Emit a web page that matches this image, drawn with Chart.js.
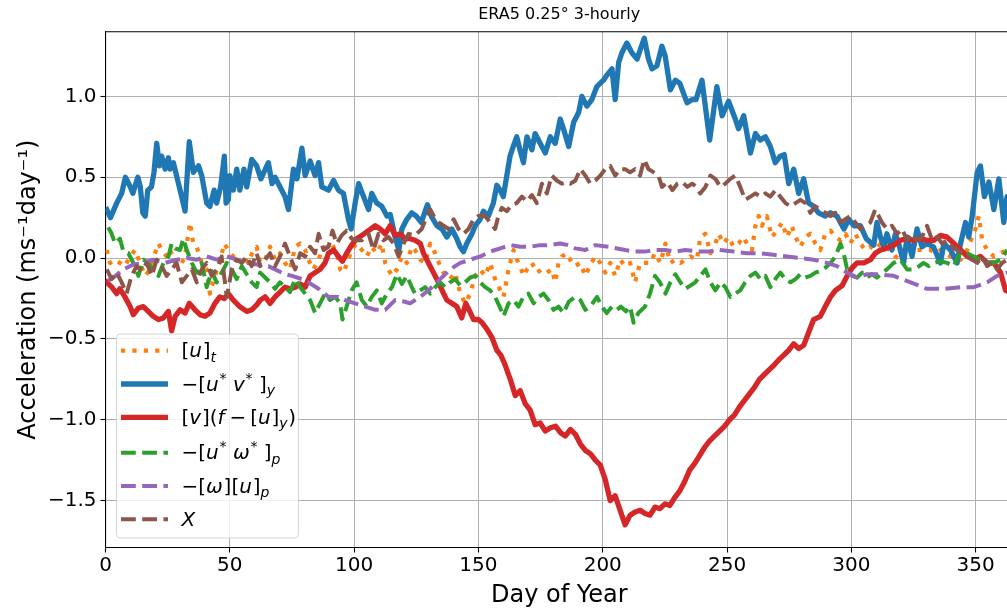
<!DOCTYPE html>
<html>
<head>
<meta charset="utf-8">
<script src="https://cdn.jsdelivr.net/npm/chart.js@4.4.1/dist/chart.umd.min.js"></script>
<style>
  html, body { margin: 0; padding: 0; overflow: hidden; background: #fff; }
  #wrap { width: 1013px; height: 612px; }
</style>
</head>
<body>
<div id="wrap"><canvas id="chart" width="1013" height="612"></canvas></div>
<script>
// ---- data: [day of year, acceleration in m/s/day] ----
const xTickValues = [0, 50, 100, 150, 200, 250, 300, 350];
const yTickValues = [-1.5, -1.0, -0.5, 0.0, 0.5, 1.0];

const utData = [ // [u]_t
  [0.5,0.05],[1.8,-0.03],[3.8,-0.01],[5.8,-0.03],[7.8,-0.05],[9.9,0.01],[11.9,0.05],[13.9,-0.03],[15.9,-0.11],[17.9,-0.07],
  [19.9,0.03],[21.3,0.09],[22.6,0.05],[24.6,0.01],[26,0.05],[28,-0.03],[30,-0.05],[32,0.01],[33.3,0.15],[34,0.22],
  [35.3,0.09],[36.7,0.07],[38.7,-0.03],[40.7,-0.07],[42,-0.22],[44,-0.11],[46,-0.03],[47.7,0.09],[49.4,0.05],[51.4,0.01],
  [53.4,-0.03],[55.4,0.01],[57.4,-0.03],[59.5,0.05],[60.8,0.07],[62.2,-0.03],[64.2,-0.01],[66.2,0.07],[68.2,-0.01],[70.2,0.03],
  [72.2,-0.03],[74.2,-0.07],[76.3,0.07],[78.3,0.09],[80.3,0.05],[81.6,-0.01],[83.6,-0.07],[85.7,-0.01],[87,0.05],[89,0.07],
  [91,0.09],[93,0.03],[94.4,-0.07],[95.7,-0.09],[97.7,-0.01],[99,0.05],[101,0.09],[103.1,0.05],[105.1,0.01],[107,0.07],
  [109.1,0.03],[111.1,0.09],[112.5,-0.03],[113.8,-0.07],[115.2,-0.11],[117.2,-0.07],[119.2,0.01],[121.2,-0.03],[123.2,0.07],[124.5,0.05],
  [126.6,-0.01],[128.6,-0.03],[130.6,0.09],[132.6,0.03],[134.6,-0.05],[136.6,-0.11],[138.6,-0.13],[140.6,-0.09],[142.7,-0.22],[144.7,-0.28],
  [146.7,-0.22],[148.7,-0.11],[150.7,-0.07],[152.7,-0.11],[154.7,-0.03],[156.7,-0.13],[158.8,-0.20],[160.1,-0.24],[162.1,-0.07],[164.1,0.05],
  [165.5,-0.01],[166.8,-0.05],[168.1,-0.11],[169.5,-0.07],[171.5,-0.03],[173.5,-0.09],[175.5,-0.07],[177.5,-0.09],[179.5,-0.07],[180.9,-0.15],
  [182.2,-0.03],[183.6,0.01],[185.5,0.03],[186.9,-0.01],[188.9,-0.05],[190.9,-0.03],[193,-0.11],[195,-0.04],[197,0.01],[199,-0.03],
  [201,-0.09],[203,-0.03],[205,-0.11],[207,-0.01],[209,-0.05],[211,-0.03],[213,-0.15],[215,-0.03],[217,-0.03],[219,-0.03],
  [221,0.03],[223.2,-0.03],[225.2,0.09],[227.2,-0.03],[229.2,-0.01],[231.2,-0.03],[233.2,-0.01],[235.2,0.01],[237.9,-0.01],[239.2,0.13],
  [241.3,0.15],[243.3,0.03],[245.3,0.09],[246.6,0.15],[248.6,0.09],[250.6,0.13],[252.6,0.07],[254.6,0.09],[256.6,0.13],[258.6,0.07],
  [260,0.05],[261.4,0.20],[262.7,0.26],[264,0.20],[266,0.26],[268,0.13],[270.1,0.17],[272.1,0.22],[274.1,0.13],[276,0.20],
  [277.5,0.13],[279.5,0.07],[281.5,0.13],[283.5,0.15],[285.5,0.09],[287.5,0.05],[289.5,0.15],[291.6,0.17],[293.6,0.13],[295.6,0.11],
  [297.6,0.15],[299.6,0.09],[301.6,0.15],[303.6,0.09],[305.6,0.05],[307.6,0.07],[309.6,0.05],[311.7,0.09],[313.6,0.07],[315.7,0.05],
  [317.7,0.01],[319.7,-0.01],[321.7,0.07],[323.8,0.05],[325.8,0.05],[327.8,0.05],[329.8,0.05],[331.8,0.05],[333.8,0.03],[335.8,0.05],
  [337.8,0.03],[339.9,0.01],[341.9,0.01],[343.9,-0.01],[346.6,0.05],[348.6,0.13],[349.9,0.18],[351.2,0.26],[352,0.18],[352.6,0.11],
  [354.6,0.05],[357.3,0.01],[360,0.03],[362.7,0.05]
];

const uvData = [ // -[u*v*]_y
  [0.5,0.30],[2,0.25],[4.5,0.34],[6.5,0.40],[8,0.50],[10,0.44],[11,0.40],[13,0.50],[14,0.44],[15,0.28],
  [16,0.26],[17,0.42],[18.5,0.44],[19.5,0.53],[20.6,0.71],[21.7,0.57],[22.6,0.63],[24,0.55],[25.3,0.62],[26,0.55],
  [27.3,0.59],[30,0.42],[32,0.29],[33,0.55],[33.7,0.72],[35.3,0.53],[37.4,0.57],[38.7,0.51],[40.7,0.34],[42,0.32],
  [43.7,0.42],[44.7,0.34],[46.3,0.44],[47.8,0.63],[48.5,0.34],[49.4,0.36],[50,0.51],[51.4,0.42],[52.8,0.55],[54,0.42],
  [55.7,0.55],[56.8,0.44],[58.8,0.61],[60.8,0.57],[62.5,0.49],[65.5,0.59],[67,0.46],[68.2,0.50],[70.2,0.44],[72.2,0.38],
  [73.6,0.30],[75.6,0.55],[77,0.49],[79,0.68],[80.3,0.51],[82.3,0.60],[84.3,0.51],[85.7,0.59],[87,0.44],[89.7,0.42],
  [91.7,0.48],[93.7,0.42],[95.7,0.40],[97.7,0.24],[98.8,0.18],[100.4,0.34],[101.8,0.46],[103.8,0.38],[105.8,0.30],[107.1,0.40],
  [109.1,0.34],[111.1,0.32],[113.2,0.26],[114.5,0.27],[116.5,0.13],[118,0.05],[119.2,0.18],[121.2,0.24],[123.2,0.28],[125,0.26],
  [127,0.22],[129.5,0.33],[131,0.26],[133.3,0.20],[135.3,0.18],[137.3,0.13],[139.3,0.18],[141.3,0.12],[142.6,0.07],[144,0.04],
  [145.3,0.09],[147.4,0.15],[148.7,0.20],[150.7,0.24],[152,0.29],[154,0.26],[156,0.34],[157.4,0.45],[158.7,0.42],[160,0.38],
  [161.4,0.51],[162.7,0.63],[164,0.69],[165.4,0.75],[166.7,0.67],[168.1,0.59],[169.5,0.75],[171.5,0.67],[172.8,0.77],[174.8,0.71],
  [176.9,0.65],[178.9,0.75],[180.9,0.71],[182.9,0.86],[184.2,0.80],[186.3,0.69],[188.3,0.84],[190.3,0.90],[191.6,1.00],[193.6,0.94],
  [195.6,0.98],[197.6,1.06],[200.3,1.10],[201.6,1.13],[203.7,1.17],[205,0.98],[206.4,1.21],[207.7,1.27],[209.7,1.33],[211.7,1.27],
  [213.8,1.23],[215.1,1.29],[216.7,1.36],[218.4,1.23],[219.8,1.17],[221.8,1.19],[223.8,1.31],[225.1,1.25],[227.2,1.04],[229.2,1.10],
  [231,1.08],[233.9,0.96],[236,0.98],[237.5,0.98],[239.9,1.10],[243,0.73],[245.9,1.06],[248,0.88],[250.6,0.97],[253.3,0.86],
  [254.6,0.80],[256.7,0.88],[259.4,0.65],[261.4,0.77],[263.4,0.73],[265.4,0.75],[267.4,0.69],[269.4,0.59],[271.4,0.63],[273,0.64],
  [274.8,0.46],[276.8,0.55],[278.8,0.40],[280.8,0.49],[282.8,0.34],[284.8,0.32],[286.8,0.28],[289.5,0.26],[291.6,0.28],[294.2,0.26],
  [297,0.18],[299,0.24],[301,0.20],[303.6,0.20],[306,0.12],[309,0.08],[310.3,0.22],[311.7,0.13],[313,0.07],[314.3,0.15],
  [316.3,0.05],[317.7,0.15],[319,0.09],[321,-0.03],[322.4,0.13],[324.4,0.01],[326.4,0.18],[328.4,0.07],[330.4,0.09],[333,0.07],
  [335.8,-0.03],[337.2,0.09],[339.9,0.05],[342.5,-0.03],[343.9,0.09],[345.9,0.22],[347.2,0.13],[348.6,0.26],[350.6,0.53],[351.9,0.57],
  [353.5,0.38],[355.3,0.47],[357.3,0.30],[359.3,0.49],[361.3,0.22],[362.6,0.38],[365,0.25]
];

const vfData = [ // [v](f-[u]_y)
  [0.5,-0.15],[2.5,-0.18],[4.5,-0.22],[5.8,-0.19],[7.8,-0.24],[9.9,-0.30],[11.2,-0.35],[13.2,-0.31],[15.2,-0.30],[17.2,-0.33],
  [19.2,-0.36],[21.3,-0.38],[23.3,-0.37],[25.3,-0.33],[26.6,-0.45],[28,-0.36],[30,-0.32],[32,-0.34],[33.7,-0.28],[36,-0.32],
  [38,-0.35],[40,-0.36],[42,-0.34],[44,-0.28],[46,-0.24],[47.8,-0.25],[49.4,-0.22],[51.4,-0.26],[54,-0.30],[56.8,-0.33],
  [58.8,-0.32],[60.8,-0.29],[62.2,-0.26],[64.2,-0.24],[66.2,-0.28],[68.2,-0.24],[70.2,-0.21],[72.2,-0.18],[74.2,-0.19],[76.3,-0.18],
  [78.3,-0.16],[80.3,-0.18],[82.3,-0.11],[84.3,-0.09],[86.3,-0.07],[88.3,-0.03],[89.7,0.03],[91.7,0.05],[93.7,0.01],[95.3,-0.02],
  [97,0.03],[99,0.08],[101,0.12],[103.1,0.14],[105.8,0.17],[108.5,0.20],[110.5,0.18],[112.5,0.15],[114.5,0.20],[116.5,0.14],
  [118.5,0.15],[120.5,0.12],[122.5,0.12],[124.5,0.11],[126.6,0.09],[127.9,0.03],[129.9,-0.03],[131.9,-0.09],[133.9,-0.15],[136,-0.22],
  [137.3,-0.26],[139.3,-0.28],[141.3,-0.30],[143.3,-0.37],[144.9,-0.28],[146.5,-0.33],[148,-0.38],[150,-0.38],[151.5,-0.40],[153.4,-0.44],
  [155.4,-0.49],[157.4,-0.57],[159,-0.60],[160.7,-0.66],[162.8,-0.75],[164.8,-0.85],[166.8,-0.82],[168.8,-0.90],[170.8,-0.94],[172.8,-1.03],
  [174.8,-1.02],[176.9,-1.07],[179,-1.05],[181,-1.04],[183,-1.08],[185,-1.10],[187,-1.06],[189,-1.09],[191,-1.15],[193,-1.19],
  [195,-1.21],[197,-1.25],[199,-1.28],[201,-1.37],[203,-1.50],[205,-1.47],[207,-1.56],[209,-1.65],[211,-1.59],[213,-1.57],
  [215,-1.56],[217,-1.58],[219,-1.59],[221,-1.54],[223,-1.55],[225,-1.52],[227,-1.53],[229,-1.48],[231,-1.44],[233,-1.38],
  [235,-1.31],[237,-1.27],[239,-1.22],[241,-1.17],[243,-1.13],[245,-1.10],[247,-1.07],[249,-1.04],[251,-1.00],[253,-0.97],
  [255,-0.92],[257,-0.88],[259,-0.84],[261,-0.80],[263,-0.75],[265,-0.72],[267,-0.69],[269,-0.66],[271.4,-0.62],[272.8,-0.60],
  [274.8,-0.57],[276.8,-0.53],[278.8,-0.56],[280.8,-0.54],[282.8,-0.46],[284.8,-0.38],[287.5,-0.36],[289.5,-0.30],[291.6,-0.24],[293.6,-0.20],
  [296.3,-0.17],[298.3,-0.11],[300.3,-0.06],[302.3,-0.03],[305,-0.03],[307.7,-0.01],[309.6,0.03],[311.7,0.05],[314,0.06],[317.1,0.08],
  [319.7,0.11],[322.4,0.12],[325,0.11],[327.8,0.12],[330.4,0.11],[333.1,0.11],[335.8,0.14],[338.5,0.13],[341.2,0.09],[343.9,0.05],
  [346.6,0.01],[349.2,-0.01],[351.9,0.01],[354.6,-0.03],[357.3,-0.03],[360,-0.09],[362,-0.20],[365,-0.22]
];

const uwData = [ // -[u*w*]_p
  [1.1,0.19],[2.5,0.15],[3.8,0.09],[5.8,0.12],[7.2,0.04],[9.2,0.03],[11.2,-0.03],[13.2,-0.11],[15.2,-0.01],[17.2,-0.03],
  [19.2,-0.07],[21.3,-0.11],[23.3,-0.03],[25.3,0.01],[26.6,0.09],[28,0.06],[30,0.05],[31.3,0.12],[32.7,0.05],[34.7,-0.03],
  [36.7,-0.09],[38.7,-0.03],[40.7,-0.18],[42.7,-0.08],[44.7,-0.15],[46.7,-0.09],[48.8,-0.03],[50.8,-0.07],[52.8,-0.13],[54.8,-0.05],
  [56.8,-0.10],[58.8,-0.15],[60.8,-0.18],[62.2,-0.09],[64.2,-0.12],[66.2,-0.15],[68.2,-0.19],[70.2,-0.15],[72.2,-0.18],[74.2,-0.21],
  [76.3,-0.13],[78.3,-0.18],[80.3,-0.22],[82.3,-0.26],[84.3,-0.34],[86.3,-0.28],[88.3,-0.22],[90.3,-0.26],[92.4,-0.24],[94.4,-0.28],
  [95.3,-0.38],[97,-0.30],[99,-0.20],[101,-0.15],[103.1,-0.26],[105.1,-0.30],[107.1,-0.24],[109.1,-0.20],[111.1,-0.28],[113.2,-0.22],
  [115.2,-0.18],[117.2,-0.10],[119.2,-0.16],[121.2,-0.11],[123.2,-0.18],[124.5,-0.22],[126.6,-0.20],[128.6,-0.18],[130.6,-0.22],[132.6,-0.18],
  [134.6,-0.15],[136.6,-0.18],[138.6,-0.15],[140.6,-0.13],[142.7,-0.17],[144.7,-0.15],[146.7,-0.12],[148.7,-0.11],[150.7,-0.15],[152.7,-0.18],
  [154.7,-0.20],[156.7,-0.24],[158.8,-0.31],[160.1,-0.36],[162.1,-0.28],[164.1,-0.26],[166.1,-0.30],[168.1,-0.24],[170.1,-0.22],[172.2,-0.28],
  [174.2,-0.24],[176.2,-0.22],[178.2,-0.26],[180.2,-0.32],[182.2,-0.30],[184.2,-0.34],[186.3,-0.27],[188.9,-0.24],[191,-0.26],[193,-0.32],
  [195,-0.30],[197.7,-0.24],[199.6,-0.30],[201.6,-0.34],[203.7,-0.30],[205.7,-0.32],[207.3,-0.30],[209.3,-0.33],[211,-0.30],[212.4,-0.40],
  [214.3,-0.34],[217,-0.30],[219,-0.22],[221,-0.11],[223,-0.15],[225.2,-0.22],[227.2,-0.15],[229.2,-0.10],[231.2,-0.15],[233.2,-0.19],
  [235.2,-0.17],[237.2,-0.15],[239.2,-0.11],[241.3,-0.07],[243.3,-0.15],[245.3,-0.20],[247.3,-0.15],[249.3,-0.18],[251.3,-0.24],[253.3,-0.22],
  [255.3,-0.20],[257.3,-0.15],[259.4,-0.11],[261.4,-0.09],[263.4,-0.13],[265.4,-0.11],[267.4,-0.18],[269.4,-0.13],[271.4,-0.09],[273.5,-0.13],
  [275.5,-0.15],[277.5,-0.13],[279.5,-0.10],[281.5,-0.12],[283.5,-0.11],[285.5,-0.09],[287.5,-0.08],[289.5,-0.06],[291.6,-0.03],[293.6,0.01],
  [295.6,0.09],[296.9,0.03],[298.3,-0.07],[300.3,-0.11],[302.3,-0.12],[304.3,-0.09],[306.3,-0.12],[308.3,-0.10],[310.3,-0.12],[311.7,-0.10],
  [314.3,-0.07],[317,-0.03],[319.7,-0.01],[322.4,-0.07],[324.4,-0.07],[326.4,-0.06],[329,-0.03],[331.1,-0.05],[333.1,-0.03],[335.8,-0.02],
  [338.5,-0.03],[341.2,-0.05],[343.9,0.04],[346.6,0.03],[349.2,0.01],[351.9,-0.01],[354.6,-0.03],[357.3,-0.03],[360,-0.01],[362.7,0.05]
];

const wuData = [ // -[w][u]_p
  [1,-0.14],[3.2,-0.12],[7.2,-0.07],[11.2,-0.04],[15.2,-0.03],[19.2,-0.01],[24,-0.03],[28.7,-0.01],[32.7,0.0],[36.7,-0.01],
  [40.7,0.01],[44.7,-0.01],[48.8,0.01],[52.8,-0.01],[56.8,-0.03],[60.8,-0.04],[65.5,-0.05],[68.2,-0.07],[72.2,-0.10],[75,-0.11],
  [79,-0.13],[81.6,-0.15],[85.7,-0.19],[89.7,-0.24],[93.7,-0.24],[96.4,-0.26],[100.4,-0.28],[104.4,-0.30],[108.5,-0.32],[112.5,-0.32],
  [116.5,-0.26],[120.5,-0.27],[122.5,-0.28],[126.6,-0.24],[130.6,-0.19],[134.6,-0.13],[138.6,-0.07],[142.7,-0.03],[146.7,-0.01],[150.7,0.01],
  [154.7,0.04],[158.8,0.06],[162.8,0.08],[166.8,0.07],[170.8,0.07],[174.8,0.08],[178.8,0.08],[182.9,0.09],[186,0.08],[188.9,0.06],
  [193,0.05],[197,0.08],[202.3,0.07],[209,0.05],[213,0.04],[217,0.04],[221,0.05],[225.2,0.05],[229.2,0.04],[233.2,0.05],
  [238.6,0.04],[242.6,0.04],[246.6,0.05],[252.6,0.04],[258,0.03],[263.4,0.03],[268.7,0.02],[274,0.01],[279.5,0.0],[284.8,-0.01],
  [290.2,-0.03],[294.2,-0.05],[298.3,-0.09],[302.3,-0.12],[306.3,-0.10],[310.3,-0.10],[317,-0.11],[323.8,-0.15],[330.4,-0.19],[337.2,-0.19],
  [343.9,-0.18],[349.2,-0.18],[354.6,-0.15],[358.6,-0.11],[362.8,-0.09]
];

const xData = [ // X
  [0.5,-0.07],[2.5,-0.13],[4.5,-0.09],[6.5,-0.15],[8.5,-0.22],[10.5,-0.11],[12.5,-0.05],[14.5,-0.08],[16.6,-0.03],[18.6,-0.11],
  [20.6,-0.01],[22.6,-0.05],[24.6,-0.11],[26.6,-0.07],[28.6,-0.03],[30.7,-0.15],[32.7,-0.11],[34.7,-0.07],[36.7,-0.15],[38.7,-0.07],
  [40.7,-0.03],[42.7,-0.11],[44.7,-0.07],[46.7,0.01],[48.8,-0.24],[50.8,-0.07],[52.8,-0.01],[54.8,-0.03],[56.8,0.01],[58.8,-0.05],
  [60.8,0.03],[62.2,-0.05],[64.2,-0.01],[66.2,0.03],[68.2,-0.05],[70.2,0.01],[72.2,0.09],[74.2,0.01],[76.3,-0.07],[78.3,0.03],
  [80.3,0.01],[82.3,0.07],[84.3,0.03],[85.7,0.15],[87.7,0.05],[89.7,0.07],[91.3,0.17],[93,0.09],[95,0.14],[97,0.17],
  [99,0.12],[101,0.11],[103.1,0.11],[105.8,0.15],[107.8,0.05],[109.8,0.15],[111.8,0.11],[113.8,0.13],[115.9,0.09],[117.9,0.01],
  [119.9,0.09],[121.9,0.15],[124.5,0.14],[127.2,0.18],[129,0.25],[130.6,0.30],[132,0.26],[134,0.22],[136,0.20],[137.9,0.18],
  [140,0.24],[142,0.18],[144,0.15],[146,0.18],[148,0.24],[150,0.26],[152.7,0.26],[154.7,0.22],[156.7,0.18],[158,0.26],
  [159.4,0.31],[161.4,0.29],[163.4,0.33],[165.4,0.34],[167.5,0.38],[169.5,0.35],[171.5,0.39],[173.5,0.34],[175.5,0.46],[177.5,0.40],
  [179.5,0.51],[181.5,0.48],[183.5,0.46],[185.5,0.47],[187,0.46],[189,0.48],[191,0.55],[193,0.51],[195,0.46],[197,0.48],
  [199,0.51],[201,0.55],[203,0.57],[205,0.51],[207,0.55],[209,0.55],[211,0.53],[213,0.55],[215,0.51],[216.7,0.61],
  [218.4,0.55],[220.5,0.53],[222.4,0.51],[223.8,0.44],[226,0.47],[228,0.42],[230,0.46],[232,0.47],[234,0.44],[236,0.46],
  [237.7,0.44],[239.2,0.40],[241.3,0.44],[243.3,0.51],[245.3,0.49],[247.3,0.44],[249.3,0.46],[251.3,0.49],[253.3,0.51],[255.3,0.44],
  [257.3,0.36],[259.4,0.38],[261.4,0.40],[263.4,0.38],[265.4,0.40],[267.4,0.38],[269.4,0.42],[271.4,0.38],[273.5,0.34],[275.5,0.32],
  [277.5,0.34],[279.5,0.36],[281.5,0.34],[283.5,0.28],[285.5,0.32],[287.5,0.30],[289.5,0.28],[291.6,0.26],[293.6,0.28],[295.6,0.22],
  [297.6,0.24],[299.6,0.26],[301.6,0.22],[303.6,0.18],[305.6,0.20],[307.6,0.22],[309.6,0.30],[311,0.26],[312.3,0.22],[314.3,0.18],
  [316.3,0.20],[318.4,0.15],[320.4,0.18],[322.4,0.11],[324.4,0.15],[326.4,0.11],[328.4,0.13],[330.4,0.20],[332.5,0.11],[334.5,0.13],
  [336.5,0.09],[338.5,0.11],[340.5,0.07],[342.5,0.05],[344.5,0.03],[346.6,0.01],[348.6,-0.01],[350.6,-0.03],[352.6,0.01],[354.6,-0.05],
  [356.6,-0.03],[358.6,-0.07],[360.6,-0.03],[362.7,-0.01]
];

const titleText = 'ERA5 0.25° 3-hourly';
const xTitle = 'Day of Year';
const yTitle = 'Acceleration (ms⁻¹day⁻¹)';

// legend labels, in mathtext-like pieces: r = roman, i = italic, sub / sup
const legendLabels = [
  [['[', 'r'], ['u', 'i'], [']', 'r'], ['t', 'sub']],
  [['\u2212[', 'r'], ['u', 'i'], ['*', 'sup'], [' v', 'i'], ['*', 'sup'], [' ]', 'r'], ['y', 'sub']],
  [['[', 'r'], ['v', 'i'], ['](', 'r'], ['f', 'i'], ['\u2009\u2212\u2009[', 'r'], ['u', 'i'], [']', 'r'], ['y', 'sub'], [')', 'r']],
  [['\u2212[', 'r'], ['u', 'i'], ['*', 'sup'], [' \u03c9', 'i'], ['*', 'sup'], [' ]', 'r'], ['p', 'sub']],
  [['\u2212[', 'r'], ['\u03c9', 'i'], ['][', 'r'], ['u', 'i'], [']', 'r'], ['p', 'sub']],
  [['X', 'i']]
];

// ---- styling ----
const FONT = '"DejaVu Sans", "Liberation Sans", sans-serif';
const seriesStyle = [
  { data: utData, color: '#ff7f0e', width: 4.2, dash: [4.2, 7.2], order: 5 },
  { data: uvData, color: '#1f77b4', width: 5.3, dash: [], order: 4 },
  { data: vfData, color: '#d62728', width: 5.3, dash: [], order: 3 },
  { data: uwData, color: '#2ca02c', width: 4, dash: [14.8, 6.4], order: 2 },
  { data: wuData, color: '#9467bd', width: 4, dash: [14.8, 6.4], order: 1 },
  { data: xData, color: '#8c564b', width: 4, dash: [14.8, 6.4], order: 0 }
];

function fmtY(v) {
  if (Math.abs(v) < 1e-9) return '0.0';
  return v.toFixed(1).replace('-', '\u2212');
}

function drawMath(ctx, parts, x, y) {
  ctx.textAlign = 'left';
  ctx.textBaseline = 'alphabetic';
  for (const [t, s] of parts) {
    let size = 20, dy = 0, italic = s === 'i';
    if (s === 'sub') { size = 14; dy = 4.5; italic = true; }
    if (s === 'sup') { size = 14; dy = -8; }
    ctx.font = (italic ? 'italic ' : '') + size + 'px ' + FONT;
    ctx.fillText(t, x, y + dy);
    x += ctx.measureText(t).width + (italic ? 0.8 : 0);
  }
}

const mplExtras = {
  id: 'mplExtras',
  afterDraw(chart) {
    const ctx = chart.ctx;
    const a = chart.chartArea;
    ctx.save();

    // top spine
    ctx.strokeStyle = '#000';
    ctx.lineWidth = 1.1;
    ctx.beginPath();
    ctx.moveTo(a.left, a.top);
    ctx.lineTo(a.right, a.top);
    ctx.stroke();

    // title
    ctx.fillStyle = '#000';
    ctx.font = '16px ' + FONT;
    ctx.textAlign = 'center';
    ctx.textBaseline = 'alphabetic';
    ctx.fillText(titleText, (a.left + a.right) / 2, 19);

    // legend box
    const bx = 116.5, by = 334, bw = 182, bh = 204;
    ctx.beginPath();
    ctx.roundRect(bx, by, bw, bh, 4);
    ctx.fillStyle = 'rgba(255,255,255,0.8)';
    ctx.fill();
    ctx.strokeStyle = 'rgba(204,204,204,0.8)';
    ctx.lineWidth = 1;
    ctx.stroke();

    const rowY = [350.7, 384, 417.3, 452.7, 486, 519.3];
    seriesStyle.forEach((s, i) => {
      ctx.beginPath();
      ctx.strokeStyle = s.color;
      ctx.lineWidth = s.width;
      ctx.lineCap = 'butt';
      ctx.setLineDash(s.dash);
      ctx.moveTo(121, rowY[i]);
      ctx.lineTo(168, rowY[i]);
      ctx.stroke();
      ctx.setLineDash([]);
      ctx.fillStyle = '#000';
      drawMath(ctx, legendLabels[i], 181.5, rowY[i] + 6.5);
    });

    ctx.restore();
  }
};

new Chart(document.getElementById('chart'), {
  type: 'line',
  data: {
    datasets: seriesStyle.map(s => ({
      data: s.data.map(p => ({ x: p[0], y: p[1] })),
      borderColor: s.color,
      backgroundColor: s.color,
      borderWidth: s.width,
      borderDash: s.dash,
      borderCapStyle: s.dash.length ? 'butt' : 'square',
      borderJoinStyle: 'round',
      pointRadius: 0,
      tension: 0,
      fill: false,
      order: s.order,
      clip: 0
    }))
  },
  options: {
    responsive: false,
    animation: false,
    devicePixelRatio: 1,
    layout: { padding: { top: 31.7, left: 0, right: 0, bottom: 0 } },
    plugins: { legend: { display: false }, title: { display: false }, tooltip: { enabled: false } },
    scales: {
      x: {
        type: 'linear',
        min: 0,
        max: 365,
        afterFit(scale) { scale.height = 64.5; },
        afterBuildTicks(scale) { scale.ticks = xTickValues.map(v => ({ value: v })); },
        grid: { color: '#b0b0b0', lineWidth: 1, tickColor: '#000', tickLength: 5, tickWidth: 1.1 },
        border: { display: true, color: '#000', width: 1.1 },
        ticks: { color: '#000', font: { family: FONT, size: 20 }, padding: 1, maxRotation: 0, autoSkip: false },
        title: { display: true, text: xTitle, color: '#000', font: { family: FONT, size: 24 }, padding: { top: 0, bottom: 2 } }
      },
      y: {
        type: 'linear',
        min: -1.79,
        max: 1.40,
        afterFit(scale) { scale.width = 105.5; },
        afterBuildTicks(scale) { scale.ticks = yTickValues.map(v => ({ value: v })); },
        grid: { color: '#b0b0b0', lineWidth: 1, tickColor: '#000', tickLength: 5, tickWidth: 1.1 },
        border: { display: true, color: '#000', width: 1.1 },
        ticks: { color: '#000', font: { family: FONT, size: 20 }, padding: 4, callback: v => fmtY(v) },
        title: { display: true, text: yTitle, color: '#000', font: { family: FONT, size: 24 }, padding: { top: 14, bottom: 0 } }
      }
    }
  },
  plugins: [mplExtras]
});
</script>
</body>
</html>
